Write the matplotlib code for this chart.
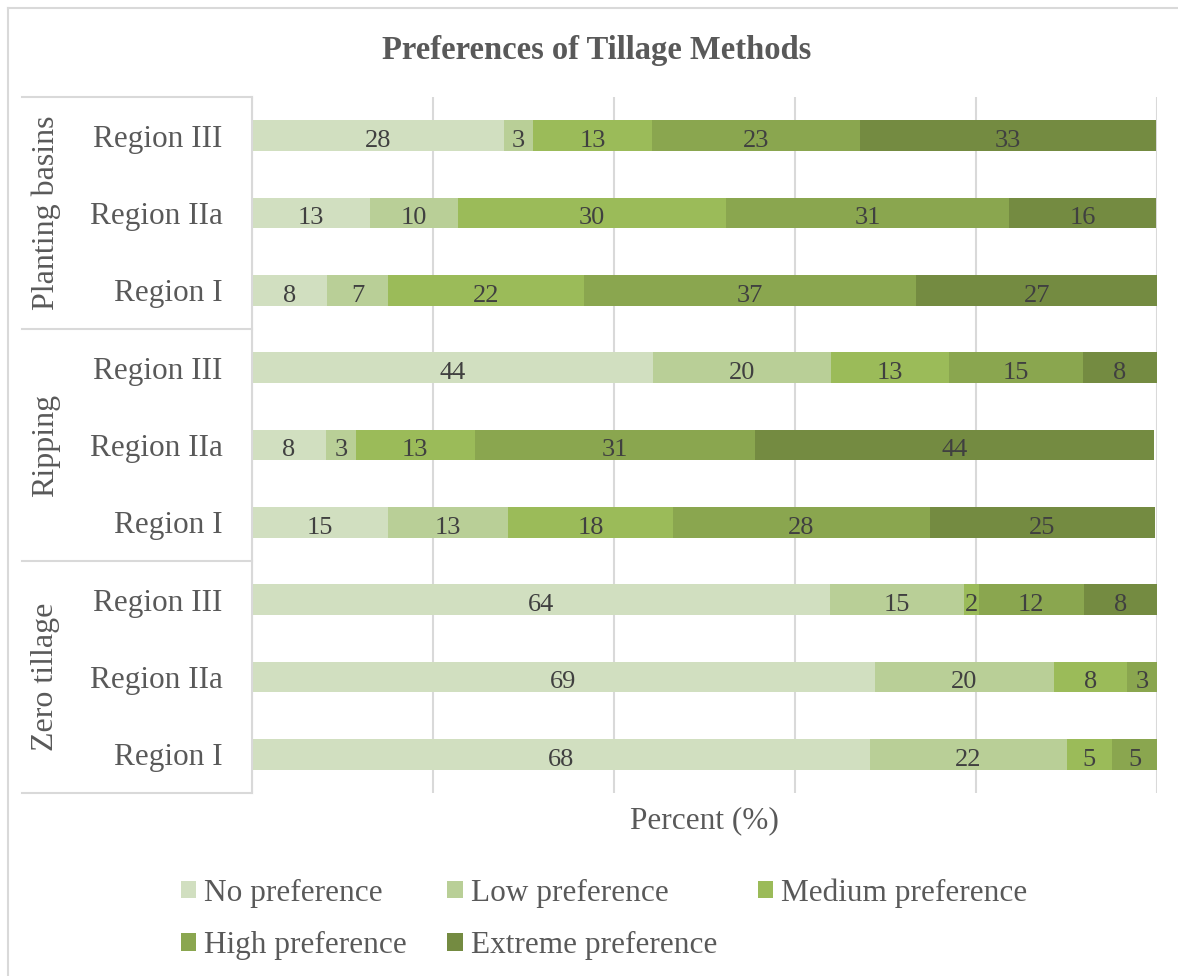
import matplotlib.pyplot as plt
from matplotlib.lines import Line2D
import numpy as np

# rows top to bottom
groups = ["Planting basins", "Ripping", "Zero tillage"]
regions = ["Region III", "Region IIa", "Region I"]
categories = ["No preference", "Low preference", "Medium preference",
              "High preference", "Extreme preference"]

# values per row (percent), rows in the order groups x regions
no_pref = [27.8, 13.0, 8.3, 44.3, 8.2, 15.0, 63.9, 68.8, 68.3]
low_pref = [3.3, 9.8, 6.7, 19.7, 3.3, 13.3, 14.8, 19.8, 21.7]
medium_pref = [13.1, 29.6, 21.7, 13.0, 13.1, 18.2, 1.6, 8.1, 5.0]
high_pref = [23.0, 31.3, 36.7, 14.8, 31.0, 28.4, 11.6, 3.3, 5.1]
extreme_pref = [32.7, 16.2, 26.6, 8.2, 44.1, 24.9, 8.2, 0, 0]

colors = ["#d1dfc0", "#b9cf97", "#9bbb59", "#8aa64f", "#748b41"]
text_gray = "#595959"
line_gray = "#d9d9d9"
serif = ["Liberation Serif", "DejaVu Serif"]

plt.rcParams["font.family"] = serif

fig = plt.figure(figsize=(11.78, 9.76), dpi=100)
W, H = 1178, 976
ax = fig.add_axes([252 / W, 1 - 793 / H, (1157 - 252) / W, (793 - 97) / H])

series = [no_pref, low_pref, medium_pref, high_pref, extreme_pref]
y = np.arange(len(no_pref))
left = np.zeros(len(no_pref))
handles = []
for vals, c, name in zip(series, colors, categories):
    vals = np.array(vals, dtype=float)
    bars = ax.barh(y, vals, left=left, height=0.4, color=c, label=name,
                   edgecolor="none")
    handles.append(bars)
    # value labels in the middle of each segment
    for rect, v in zip(bars, vals):
        if v > 0:
            ax.annotate("%.0f" % v,
                        (rect.get_x() + rect.get_width() / 2,
                         rect.get_y() + rect.get_height() / 2),
                        xytext=(0, -2), textcoords="offset points",
                        ha="center", va="center_baseline", color="#404040",
                        fontsize=19)
    left += vals

ax.set_xlim(0, 100)
ax.set_ylim(len(no_pref) - 0.5, -0.5)
ax.set_xticks(np.arange(0, 101, 20))
ax.set_xticklabels([])
ax.tick_params(axis="x", length=0)
ax.set_yticks(y)
ax.set_yticklabels(regions * len(groups), fontsize=22.5, color=text_gray)
ax.tick_params(axis="y", length=0, pad=21)
ax.grid(axis="x", color=line_gray, lw=1.5)
ax.set_axisbelow(True)
for s in ["top", "right", "bottom"]:
    ax.spines[s].set_visible(False)
ax.spines["left"].set_color(line_gray)
ax.spines["left"].set_linewidth(1.5)

ax.set_xlabel("Percent (%)", fontsize=22.5, color=text_gray, labelpad=6)

# group labels and separator lines
for i, g in enumerate(groups):
    top = 97 + i * (793 - 97) / 3
    bot = 97 + (i + 1) * (793 - 97) / 3
    fig.text(46 / W, 1 - (top + bot) / 2 / H, g, rotation=90, ha="center",
             va="center", fontsize=23, color=text_gray)
for yy in np.linspace(97, 793, 4):
    fig.add_artist(Line2D([22 / W, 252 / W], [1 - yy / H, 1 - yy / H],
                          color=line_gray, lw=1.5))

# outer frame (top and left visible)
fig.add_artist(Line2D([8 / W, 1], [1 - 8 / H, 1 - 8 / H], color=line_gray, lw=1.5))
fig.add_artist(Line2D([8 / W, 8 / W], [0, 1 - 8 / H], color=line_gray, lw=1.5))

fig.text(597 / W, 1 - 50 / H, "Preferences of Tillage Methods", ha="center",
         va="center", fontsize=23.5, fontweight="bold", color=text_gray)

# legend filled column-wise -> reorder so rows read No, Low, Medium / High, Extreme
order = [0, 3, 1, 4, 2]
fig.legend([handles[i] for i in order], [categories[i] for i in order],
           loc="center", bbox_to_anchor=(604 / W, 1 - 919 / H), ncol=3,
           frameon=False, fontsize=22.5, labelcolor=text_gray,
           handlelength=0.5, handleheight=0.5, handletextpad=0.25,
           columnspacing=1.3, labelspacing=0.75)

fig.savefig("out.png", dpi=100)
